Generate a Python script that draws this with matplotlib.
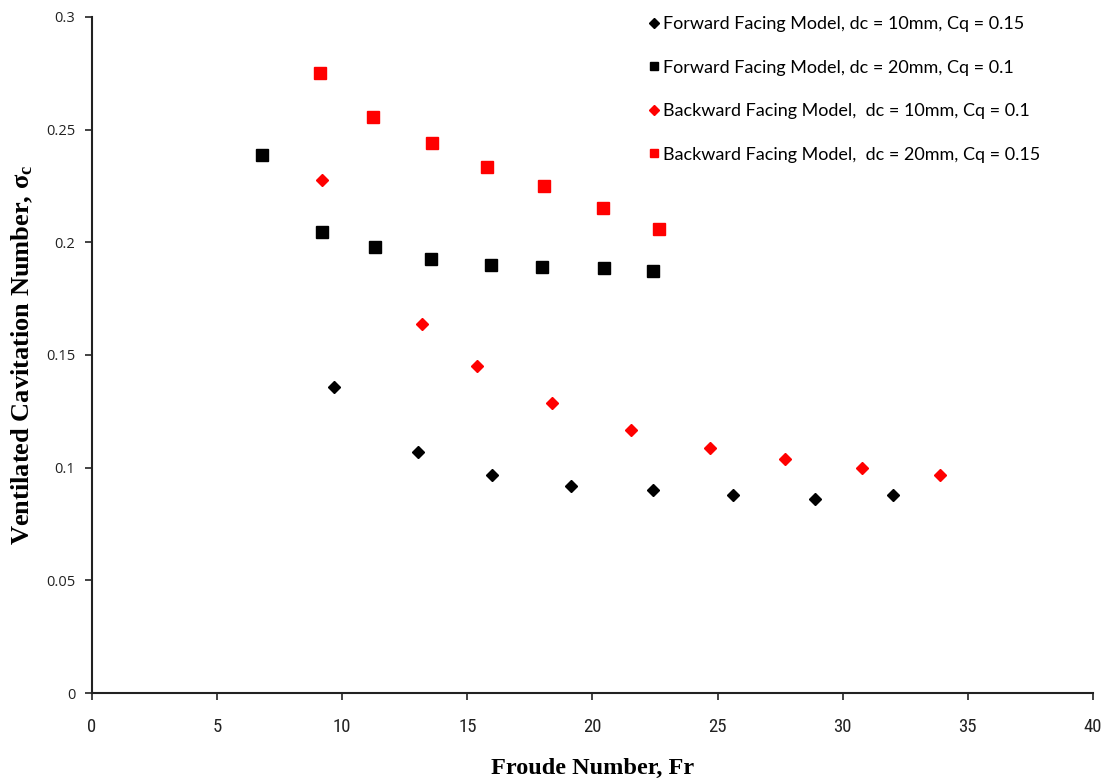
import matplotlib
matplotlib.use("Agg")
import matplotlib.pyplot as plt
from matplotlib import font_manager

# Data
fwd10_fr = [9.67, 13.02, 15.98, 19.14, 22.41, 25.6, 28.9, 32.0]
fwd10_sig = [0.1358, 0.107, 0.0967, 0.0919, 0.0901, 0.0879, 0.0861, 0.0879]
fwd20_fr = [6.79, 9.19, 11.3, 13.54, 15.94, 17.98, 20.46, 22.41]
fwd20_sig = [0.2388, 0.2046, 0.1979, 0.1926, 0.190, 0.189, 0.1886, 0.1873]
bwd10_fr = [9.19, 13.18, 15.38, 18.38, 21.53, 24.69, 27.69, 30.76, 33.88]
bwd10_sig = [0.2277, 0.1638, 0.1451, 0.1287, 0.1167, 0.1087, 0.1038, 0.0999, 0.0967]
bwd20_fr = [9.11, 11.23, 13.58, 15.78, 18.06, 20.42, 22.65]
bwd20_sig = [0.2752, 0.2556, 0.2441, 0.2334, 0.225, 0.2152, 0.2059]

labels = [
    "Forward Facing Model, dc = 10mm, Cq = 0.15",
    "Forward Facing Model, dc = 20mm, Cq = 0.1",
    "Backward Facing Model,  dc = 10mm, Cq = 0.1",
    "Backward Facing Model,  dc = 20mm, Cq = 0.15",
]
x_ticks = [0, 5, 10, 15, 20, 25, 30, 35, 40]
y_ticks = [0, 0.05, 0.1, 0.15, 0.2, 0.25, 0.3]
y_tick_labels = ["0", "0.05", "0.1", "0.15", "0.2", "0.25", "0.3"]

names = {f.name for f in font_manager.fontManager.ttflist}
narrow_candidates = ["Liberation Sans Narrow", "DejaVu Sans Condensed", "Roboto Condensed"]
narrow = next((n for n in narrow_candidates if n in names), "DejaVu Sans")

plt.rcParams["mathtext.fontset"] = "custom"
plt.rcParams["mathtext.rm"] = "Liberation Serif:bold"
plt.rcParams["mathtext.it"] = "Liberation Serif:bold"
plt.rcParams["mathtext.bf"] = "Liberation Serif:bold"

fig = plt.figure(figsize=(11.09, 7.82), dpi=100)
ax = fig.add_axes([0.083, 0.1138, 0.9025, 0.8645])

ax.plot(fwd10_fr, fwd10_sig, linestyle="none", marker="D", color="black", markersize=6, label=labels[0])
ax.plot(fwd20_fr, fwd20_sig, linestyle="none", marker="s", color="black", markersize=8, label=labels[1])
ax.plot(bwd10_fr, bwd10_sig, linestyle="none", marker="D", color="red", markersize=6, label=labels[2])
ax.plot(bwd20_fr, bwd20_sig, linestyle="none", marker="s", color="red", markersize=8, label=labels[3])

ax.set_xlim(0, 40)
ax.set_ylim(0, 0.3)
ax.set_xticks(x_ticks)
ax.set_xticklabels([str(t) for t in x_ticks], fontfamily=narrow, fontsize=13.5, color="#222222")
ax.set_yticks(y_ticks)
ax.set_yticklabels(y_tick_labels, fontfamily="Open Sans", fontsize=10.5, color="#333333")
ax.tick_params(axis="both", direction="out", length=5, width=1.2, colors="#222222")
ax.tick_params(axis="x", pad=13)
ax.tick_params(axis="y", pad=7)
for s in ["top", "right"]:
    ax.spines[s].set_visible(False)
for s in ["left", "bottom"]:
    ax.spines[s].set_linewidth(1.5)
    ax.spines[s].set_color("#222222")

ax.set_xlabel("Froude Number, Fr", fontfamily="Liberation Serif", fontweight="bold", fontsize=17.5, labelpad=16)
ax.set_ylabel("Ventilated Cavitation Number, σ$_\\mathrm{c}$", fontfamily="Liberation Serif",
              fontweight="bold", fontsize=19, labelpad=8)

leg = ax.legend(loc="upper right", bbox_to_anchor=(0.964, 1.025), frameon=False,
                prop={"family": "Lato", "size": 13}, handletextpad=0.1,
                handlelength=0.8, labelspacing=1.52, markerscale=0.8)

fig.savefig("out.png", dpi=100)
